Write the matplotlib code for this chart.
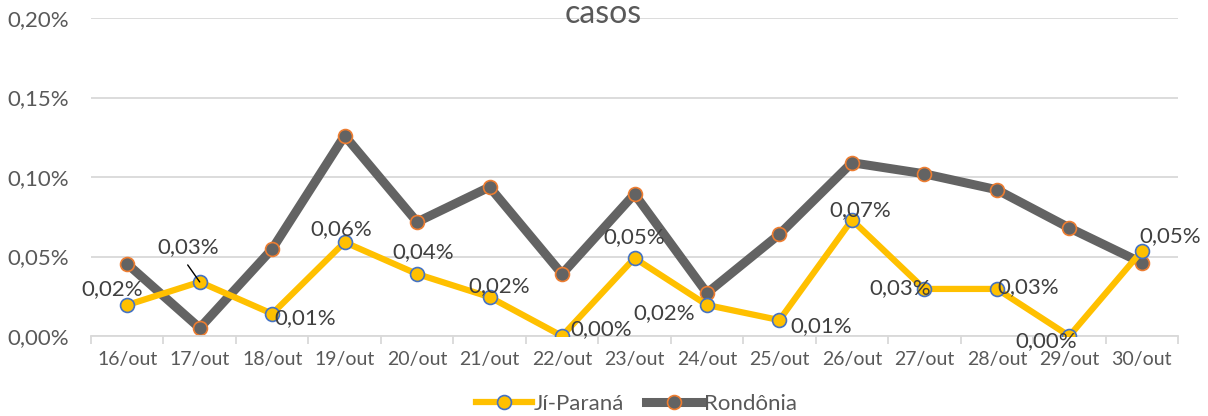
import matplotlib.pyplot as plt

dias = ['16/out', '17/out', '18/out', '19/out', '20/out', '21/out', '22/out', '23/out',
        '24/out', '25/out', '26/out', '27/out', '28/out', '29/out', '30/out']
ji_parana = [0.0195, 0.034, 0.014, 0.059, 0.039, 0.0245, 0.0, 0.049,
             0.0195, 0.010, 0.073, 0.0296, 0.0296, 0.0, 0.0535]
rondonia = [0.0453, 0.005, 0.0547, 0.126, 0.0717, 0.0937, 0.039, 0.0893,
            0.027, 0.064, 0.109, 0.102, 0.092, 0.068, 0.046]
y_ticks = [0.0, 0.05, 0.10, 0.15, 0.20]

# label offsets in pixels (x right, y up) for the Ji-Paraná data labels
offsets = [(-15, 16), (-12, 35), (33, -4), (-3, 13), (6, 22), (10, 11), (39, 7), (0, 21),
           (-43, -8), (42, -6), (8, 10), (-24, 1), (31, 2), (-23, -5), (28, 15)]

plt.rcParams['font.family'] = ['Lato', 'DejaVu Sans']

fig = plt.figure(figsize=(12.08, 4.16), dpi=100)
ax = fig.add_axes([91 / 1208, 1 - 336 / 416, (1178 - 91) / 1208, (336 - 18) / 416])

x = range(len(dias))
ax.plot(x, ji_parana, color='#FFC000', lw=4.5, marker='o', ms=10,
        mfc='#FFC000', mec='#4472C4', mew=1.2, label='Jí-Paraná', zorder=3)
ax.plot(x, rondonia, color='#636363', lw=6.5, marker='o', ms=10,
        mfc='#636363', mec='#ED7D31', mew=1.2, label='Rondônia', zorder=2)

for i, v in enumerate(ji_parana):
    txt = f'{v:.2f}%'.replace('.', ',')
    dx, dy = offsets[i]
    ax.annotate(txt, (i, v), xytext=(dx, dy), textcoords='offset pixels',
                ha='center', va='center', fontsize=16, color='#404040', zorder=4,
                annotation_clip=False)

# leader line for the 17/out label
ax.annotate('', (1, ji_parana[1]), xytext=(-12, 17), textcoords='offset pixels',
            arrowprops=dict(arrowstyle='-', color='black', lw=1, shrinkA=0, shrinkB=0))

ax.set_xlim(-0.5, len(dias) - 0.5)
ax.set_ylim(0, 0.20)
ax.set_yticks(y_ticks)
ax.set_yticklabels([f'{t:.2f}%'.replace('.', ',') for t in y_ticks])
ax.set_xticks(list(x))
ax.set_xticklabels(dias)
ax.set_xticks([i - 0.5 for i in range(len(dias) + 1)], minor=True)

ax.grid(axis='y', color='#D9D9D9', lw=1.3)
ax.set_axisbelow(True)
for s in ['top', 'right', 'left']:
    ax.spines[s].set_visible(False)
ax.spines['bottom'].set_color('#D9D9D9')
ax.spines['bottom'].set_linewidth(1.3)
ax.tick_params(axis='y', length=0, labelsize=16, labelcolor='#595959', pad=16)
ax.tick_params(axis='x', which='major', length=0, labelsize=14, labelcolor='#595959', pad=11)
ax.tick_params(axis='x', which='minor', length=6, color='#D9D9D9', width=1.3)

fig.text(0.499, 1 - 14 / 416, 'casos', ha='center', va='center', fontsize=23, color='#595959')

fig.legend(loc='center', bbox_to_anchor=(0.527, 1 - 404 / 416), ncol=2, frameon=False,
           fontsize=16, labelcolor='#595959', handlelength=2.5, handletextpad=0.1,
           columnspacing=1.0, borderaxespad=0)

fig.savefig('out.png', dpi=100)
